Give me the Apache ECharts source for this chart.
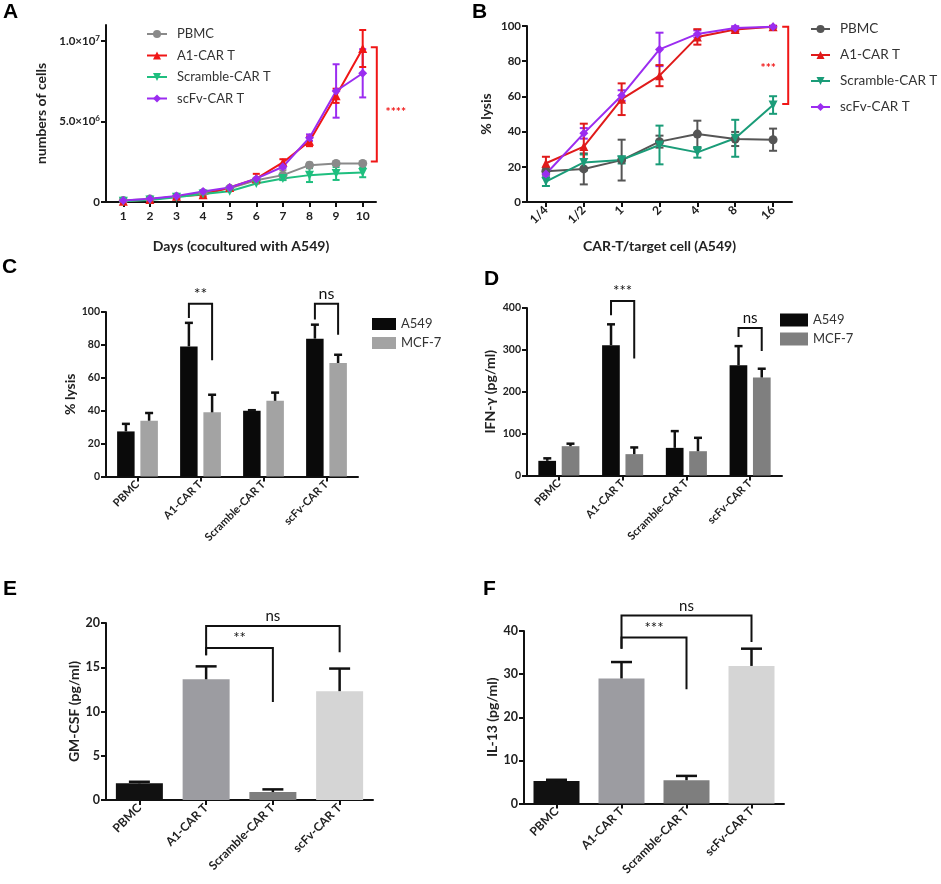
<!DOCTYPE html>
<html>
<head>
<meta charset="utf-8">
<script src="https://cdn.jsdelivr.net/npm/echarts@6/dist/echarts.min.js"></script>
<style>
  html, body { margin: 0; padding: 0; background: #fff; }
  #main { width: 941px; height: 884px; }
</style>
</head>
<body>
<div id="main"></div>
<script>
// ---- A: cell numbers over days ----
const daysA = [1, 2, 3, 4, 5, 6, 7, 8, 9, 10];
const pbmcA = [0.10e6, 0.18e6, 0.33e6, 0.58e6, 0.85e6, 1.35e6, 1.67e6, 2.29e6, 2.40e6, 2.40e6];
const pbmcAErr = [0, 0, 0, 0, 0, 0.1e6, 0.3e6, 0.15e6, 0.1e6, 0.1e6];
const a1A = [0.05e6, 0.15e6, 0.35e6, 0.45e6, 0.90e6, 1.45e6, 2.46e6, 3.77e6, 6.60e6, 9.54e6];
const a1AErr = [0, 0, 0, 0.1e6, 0, 0.3e6, 0.2e6, 0.3e6, 0.44e6, 1.15e6];
const scrA = [0.05e6, 0.12e6, 0.30e6, 0.50e6, 0.67e6, 1.15e6, 1.46e6, 1.67e6, 1.77e6, 1.84e6];
const scrAErr = [0, 0, 0, 0, 0, 0, 0.1e6, 0.43e6, 0.4e6, 0.3e6];
const scfvA = [0.10e6, 0.20e6, 0.38e6, 0.65e6, 0.90e6, 1.45e6, 2.19e6, 4.00e6, 6.90e6, 8.00e6];
const scfvAErr = [0, 0, 0, 0, 0, 0, 0.1e6, 0.2e6, 1.66e6, 1.5e6];
const yTicksA = [0, 5e6, 1e7];

// ---- B: % lysis vs E:T ratio ----
const ratiosB = ['1/4', '1/2', '1', '2', '4', '8', '16'];
const pbmcB = [17.5, 18.8, 23.8, 34.3, 38.6, 35.8, 35.4];
const pbmcBErr = [2, 8.8, 11.6, 3.4, 7.6, 4, 6.3];
const a1B = [22, 31.5, 58.4, 71.8, 93.8, 98, 99.6];
const a1BErr = [3.7, 13, 9, 6, 4.4, 1, 0.5];
const scrB = [11.6, 22.5, 23.9, 32.4, 28.2, 36.2, 55.1];
const scrBErr = [2.5, 4.5, 2, 11, 3, 10.5, 5];
const scfvB = [15.9, 39, 60.5, 86.7, 95.5, 98.9, 99.6];
const scfvBErr = [2, 3, 3, 9.5, 2, 1, 0.5];

// ---- C-F: bar panels ----
const groups = ['PBMC', 'A1-CAR T', 'Scramble-CAR T', 'scFv-CAR T'];
const lysisA549 = [27.4, 79.1, 40, 83.8];
const lysisA549Err = [4.6, 14.3, 0.3, 8.5];
const lysisMCF7 = [33.9, 39, 46, 69];
const lysisMCF7Err = [4.7, 10.7, 5, 5];
const ifnA549 = [35, 311, 66, 263];
const ifnA549Err = [6, 50, 40, 46];
const ifnMCF7 = [70, 51, 58, 234];
const ifnMCF7Err = [6, 16, 32, 21];
const gmcsf = [1.88, 13.64, 0.9, 12.3];
const gmcsfErr = [0.18, 1.46, 0.3, 2.55];
const il13 = [5.2, 29.0, 5.4, 31.9];
const il13Err = [0.3, 3.8, 1.0, 4.0];

const FONT = 'Lato';
const strip = (n) => n.split('|')[1];

// 0 A, 1 B, 2 C, 3 D, 4 E, 5 F
const grids = [
  { left: 106, top: 25, width: 270, height: 177 },
  { left: 527, top: 26, width: 265, height: 176 },
  { left: 106, top: 312, width: 252, height: 164.5 },
  { left: 527, top: 308, width: 255, height: 167.5 },
  { left: 106, top: 623, width: 267, height: 177 },
  { left: 524, top: 631, width: 260, height: 172.5 },
];

const axisLine = { show: true, lineStyle: { color: '#111', width: 2 } };
const axisTick = { show: true, length: 5, lineStyle: { color: '#111', width: 2 } };
const tickLabel = { color: '#222', fontSize: 11, fontWeight: 'bold', fontFamily: FONT };
const nameStyle = { color: '#222', fontSize: 14, fontWeight: 'bold', fontFamily: FONT };

function yAxis(gi, min, max, interval, name, gap, fontSize) {
  return {
    type: 'value', gridIndex: gi, min, max, interval,
    name, nameLocation: 'middle', nameGap: gap, nameTextStyle: nameStyle,
    axisLine, axisTick, axisLabel: { ...tickLabel, fontSize, margin: 6 }, splitLine: { show: false },
  };
}
function catAxis(gi, data, fontSize) {
  return {
    type: 'category', gridIndex: gi, data, boundaryGap: true,
    axisLine, axisTick: { ...axisTick, alignWithLabel: true },
    axisLabel: { ...tickLabel, fontSize, rotate: 45, margin: 6 },
  };
}

function errSeries(gi, xs, ys, errs, color, opts) {
  return {
    type: 'custom', xAxisIndex: gi, yAxisIndex: gi, silent: true, clip: false, z: opts.z || 3,
    encode: { x: 0, y: 1 },
    data: ys.map((y, i) => [xs[i], y, errs[i]]),
    renderItem(params, api) {
      const x = api.value(0);
      const y = api.value(1);
      const e = api.value(2);
      if (!e) return null;
      const p0 = api.coord([x, opts.both ? y - e : y]);
      const p1 = api.coord([x, y + e]);
      const cx = p0[0] + (opts.dx || 0);
      const h = opts.cap / 2;
      const style = { stroke: color, lineWidth: opts.lw || 2, fill: null };
      const kids = [
        { type: 'line', shape: { x1: cx, y1: p0[1], x2: cx, y2: p1[1] }, style },
        { type: 'line', shape: { x1: cx - h, y1: p1[1], x2: cx + h, y2: p1[1] }, style },
      ];
      if (opts.both) {
        kids.push({ type: 'line', shape: { x1: cx - h, y1: p0[1], x2: cx + h, y2: p0[1] }, style });
      }
      return { type: 'group', children: kids };
    },
  };
}

// bracket between two bars: from/to = [category index, bar offset px]
function barBrackets(gi, list, color, fontSize) {
  return {
    type: 'custom', xAxisIndex: gi, yAxisIndex: gi, silent: true, clip: false, z: 6,
    encode: { x: 0, y: 1 },
    data: list.map((b) => [b.from[0], b.top]),
    renderItem(params, api) {
      const b = list[params.dataIndex];
      const xa = api.coord([b.from[0], b.top])[0] + b.from[1];
      const xb = api.coord([b.to[0], b.top])[0] + b.to[1];
      const yt = api.coord([0, b.top])[1];
      const ya = api.coord([0, b.ends[0]])[1];
      const yb = api.coord([0, b.ends[1]])[1];
      return {
        type: 'group',
        children: [
          {
            type: 'polyline',
            shape: { points: [[xa, ya], [xa, yt], [xb, yt], [xb, yb]] },
            style: { stroke: color, lineWidth: 2, fill: null },
          },
          {
            type: 'text',
            style: {
              x: (xa + xb) / 2, y: yt - 2, text: b.text, align: 'center', verticalAlign: 'bottom',
              fill: color, font: `${fontSize}px ${FONT}`,
            },
          },
        ],
      };
    },
  };
}

// vertical bracket at the right of a line panel
function sideBracket(gi, b, color) {
  return {
    type: 'custom', xAxisIndex: gi, yAxisIndex: gi, silent: true, clip: false, z: 6,
    encode: { x: 0, y: 1 },
    data: [[b.x, b.top]],
    renderItem(params, api) {
      const p0 = api.coord([b.x, b.top]);
      const p1 = api.coord([b.x, b.bottom]);
      const bandShift = b.band ? api.size([1, 0])[0] * b.band : 0;
      const x = p0[0] + bandShift;
      const ty = api.coord([b.x, b.textY])[1];
      return {
        type: 'group',
        children: [
          {
            type: 'polyline',
            shape: { points: [[x - 6, p0[1]], [x, p0[1]], [x, p1[1]], [x - 6, p1[1]]] },
            style: { stroke: color, lineWidth: 2, fill: null },
          },
          {
            type: 'text',
            style: {
              x: x + b.textDx, y: ty, text: b.text, align: 'center', verticalAlign: 'middle',
              fill: color, font: `bold 12px ${FONT}`,
            },
          },
        ],
      };
    },
  };
}

const cA = { pbmc: '#8a8a8a', a1: '#f01616', scr: '#1fbf7f', scfv: '#9b2cf0' };
const cB = { pbmc: '#555555', a1: '#e01a1a', scr: '#1a9c78', scfv: '#9b2cf0' };
const marker = { pbmc: 'circle', a1: 'triangle', scr: 'triangle', scfv: 'diamond' };

function lineSeries(gi, name, key, data, colors) {
  return {
    type: 'line', name, xAxisIndex: gi, yAxisIndex: gi, data,
    symbol: marker[key], symbolSize: 9,
    symbolRotate: key === 'scr' ? 180 : 0,
    color: colors[key], lineStyle: { width: 2, color: colors[key] },
    itemStyle: { color: colors[key] }, z: 4,
  };
}

const zipA = (vals) => vals.map((v, i) => [daysA[i], v]);
const idxB = ratiosB.map((_, i) => i);
const idxG = groups.map((_, i) => i);

const barColorsEF = ['#111111', '#9c9ca1', '#7e7e7e', '#d5d5d5'];
const pairOff = 11.6;

const series = [
  // A
  lineSeries(0, 'A|PBMC', 'pbmc', zipA(pbmcA), cA),
  lineSeries(0, 'A|A1-CAR T', 'a1', zipA(a1A), cA),
  lineSeries(0, 'A|Scramble-CAR T', 'scr', zipA(scrA), cA),
  lineSeries(0, 'A|scFv-CAR T', 'scfv', zipA(scfvA), cA),
  errSeries(0, daysA, pbmcA, pbmcAErr, cA.pbmc, { both: true, cap: 7 }),
  errSeries(0, daysA, scrA, scrAErr, cA.scr, { both: true, cap: 7 }),
  errSeries(0, daysA, scfvA, scfvAErr, cA.scfv, { both: true, cap: 7 }),
  errSeries(0, daysA, a1A, a1AErr, cA.a1, { both: true, cap: 7 }),
  sideBracket(0, { x: 10.53, top: 9.62e6, bottom: 2.52e6, textY: 5.6e6, textDx: 19, text: '****' }, '#f01616'),
  // B
  lineSeries(1, 'B|PBMC', 'pbmc', pbmcB, cB),
  lineSeries(1, 'B|A1-CAR T', 'a1', a1B, cB),
  lineSeries(1, 'B|Scramble-CAR T', 'scr', scrB, cB),
  lineSeries(1, 'B|scFv-CAR T', 'scfv', scfvB, cB),
  errSeries(1, idxB, pbmcB, pbmcBErr, cB.pbmc, { both: true, cap: 8 }),
  errSeries(1, idxB, scrB, scrBErr, cB.scr, { both: true, cap: 8 }),
  errSeries(1, idxB, scfvB, scfvBErr, cB.scfv, { both: true, cap: 8 }),
  errSeries(1, idxB, a1B, a1BErr, cB.a1, { both: true, cap: 8 }),
  sideBracket(1, { x: 6, band: 0.4, top: 99.6, bottom: 55.7, textY: 76, textDx: -20, text: '***' }, '#f01616'),
  // C
  {
    type: 'bar', name: 'C|A549', xAxisIndex: 2, yAxisIndex: 2, data: lysisA549,
    barWidth: 17.5, barGap: '33%', itemStyle: { color: '#0a0a0a' },
  },
  {
    type: 'bar', name: 'C|MCF-7', xAxisIndex: 2, yAxisIndex: 2, data: lysisMCF7,
    barWidth: 17.5, itemStyle: { color: '#a3a3a3' },
  },
  errSeries(2, idxG, lysisA549, lysisA549Err, '#111', { cap: 8, lw: 2.5, dx: -pairOff }),
  errSeries(2, idxG, lysisMCF7, lysisMCF7Err, '#111', { cap: 8, lw: 2.5, dx: pairOff }),
  barBrackets(2, [
    { from: [1, -pairOff], to: [1, pairOff], top: 105, ends: [96.4, 70.6], text: '**' },
    { from: [3, -pairOff], to: [3, pairOff], top: 105, ends: [95.4, 86.2], text: 'ns' },
  ], '#111', 16),
  // D
  {
    type: 'bar', name: 'D|A549', xAxisIndex: 3, yAxisIndex: 3, data: ifnA549,
    barWidth: 17.7, barGap: '32%', itemStyle: { color: '#0a0a0a' },
  },
  {
    type: 'bar', name: 'D|MCF-7', xAxisIndex: 3, yAxisIndex: 3, data: ifnMCF7,
    barWidth: 17.7, itemStyle: { color: '#7f7f7f' },
  },
  errSeries(3, idxG, ifnA549, ifnA549Err, '#111', { cap: 8, lw: 2.5, dx: -pairOff }),
  errSeries(3, idxG, ifnMCF7, ifnMCF7Err, '#111', { cap: 8, lw: 2.5, dx: pairOff }),
  barBrackets(3, [
    { from: [1, -pairOff], to: [1, pairOff], top: 416.7, ends: [382.6, 279.2], text: '***' },
    { from: [3, -pairOff], to: [3, pairOff], top: 352.3, ends: [330.8, 297.4], text: 'ns' },
  ], '#111', 15),
  // E
  {
    type: 'bar', name: 'E', xAxisIndex: 4, yAxisIndex: 4, barWidth: 47,
    data: gmcsf.map((v, i) => ({ value: v, itemStyle: { color: barColorsEF[i] } })),
  },
  errSeries(4, idxG, gmcsf, gmcsfErr, '#111', { cap: 21, lw: 2.5 }),
  barBrackets(4, [
    { from: [1, 0], to: [3, 0], top: 19.65, ends: [16.35, 16.7], text: 'ns' },
    { from: [1, 0], to: [2, 0], top: 17.17, ends: [16.35, 11.08], text: '**' },
  ], '#111', 15),
  // F
  {
    type: 'bar', name: 'F', xAxisIndex: 5, yAxisIndex: 5, barWidth: 46,
    data: il13.map((v, i) => ({ value: v, itemStyle: { color: barColorsEF[i] } })),
  },
  errSeries(5, idxG, il13, il13Err, '#111', { cap: 21, lw: 2.5 }),
  barBrackets(5, [
    { from: [1, 0], to: [3, 0], top: 43.6, ends: [35.9, 37.45], text: 'ns' },
    { from: [1, 0], to: [2, 0], top: 38.5, ends: [35.9, 26.5], text: '***' },
  ], '#111', 15),
];

const legendText = { color: '#333', fontSize: 13, fontFamily: FONT, lineHeight: 14 };

const option = {
  animation: false,
  backgroundColor: '#fff',
  textStyle: { fontFamily: FONT },
  title: ['A', 'B', 'C', 'D', 'E', 'F'].map((t, i) => ({
    text: t,
    padding: 0,
    left: [3, 472, 2, 484, 3, 483][i],
    top: [2, 2, 257, 269, 579, 579][i],
    textStyle: { fontSize: 21, fontWeight: 'bold', color: '#000', fontFamily: 'Liberation Sans' },
  })),
  grid: grids,
  legend: [
    {
      orient: 'vertical', left: 146, top: 27, padding: 0, itemWidth: 20, itemHeight: 10, itemGap: 7.5,
      data: ['A|PBMC', 'A|A1-CAR T', 'A|Scramble-CAR T', 'A|scFv-CAR T'],
      formatter: strip, textStyle: { ...legendText, padding: [0, 0, 0, 5] },
    },
    {
      orient: 'vertical', left: 810, top: 22, padding: 0, itemWidth: 19, itemHeight: 10, itemGap: 12,
      data: ['B|PBMC', 'B|A1-CAR T', 'B|Scramble-CAR T', 'B|scFv-CAR T'],
      formatter: strip, textStyle: { ...legendText, fontSize: 13.5, padding: [0, 0, 0, 5] },
    },
    {
      orient: 'vertical', left: 372, top: 317, padding: 0, itemWidth: 24, itemHeight: 12, itemGap: 5, icon: 'rect',
      data: ['C|A549', 'C|MCF-7'], formatter: strip, textStyle: legendText,
    },
    {
      orient: 'vertical', left: 780, top: 313, padding: 0, itemWidth: 28, itemHeight: 13, itemGap: 5, icon: 'rect',
      data: ['D|A549', 'D|MCF-7'], formatter: strip, textStyle: legendText,
    },
  ],
  xAxis: [
    {
      type: 'value', gridIndex: 0, min: 0.35, max: 10.5,
      name: 'Days (cocultured with A549)', nameLocation: 'middle', nameGap: 37, nameTextStyle: nameStyle,
      axisLine, axisTick: { ...axisTick, customValues: daysA },
      axisLabel: { ...tickLabel, fontSize: 12, customValues: daysA, margin: 8 },
      splitLine: { show: false },
    },
    {
      ...catAxis(1, ratiosB, 12),
      name: 'CAR-T/target cell (A549)', nameLocation: 'middle', nameGap: 37, nameTextStyle: nameStyle,
    },
    catAxis(2, groups, 11),
    catAxis(3, groups, 11),
    catAxis(4, groups, 12),
    catAxis(5, groups, 12),
  ],
  yAxis: [
    {
      ...yAxis(0, 0, 1.1e7, null, 'numbers of cells', 58, 11),
      axisTick: { ...axisTick, customValues: yTicksA },
      axisLabel: {
        ...tickLabel,
        fontSize: 11.5,
        margin: 6,
        customValues: yTicksA,
        formatter(v) {
          if (v === 0) return '0';
          const e = Math.floor(Math.log10(v));
          return '{m|' + (v / Math.pow(10, e)).toFixed(1) + '×10}{e|' + e + '}';
        },
        rich: {
          m: { fontSize: 11.5, fontWeight: 'bold', color: '#222', fontFamily: FONT, lineHeight: 14 },
          e: { fontSize: 8, color: '#222', fontFamily: FONT, verticalAlign: 'top', lineHeight: 9 },
        },
      },
    },
    yAxis(1, 0, 100, 20, '% lysis', 34, 11.5),
    yAxis(2, 0, 100, 20, '% lysis', 28, 10.5),
    yAxis(3, 0, 400, 100, 'IFN-γ (pg/ml)', 30, 10.5),
    yAxis(4, 0, 20, 5, 'GM-CSF (pg/ml)', 25, 12.5),
    yAxis(5, 0, 40, 10, 'IL-13 (pg/ml)', 25, 12.5),
  ],
  series,
};

const chart = echarts.init(document.getElementById('main'), null, { renderer: 'canvas' });
chart.setOption(option);
</script>
</body>
</html>
